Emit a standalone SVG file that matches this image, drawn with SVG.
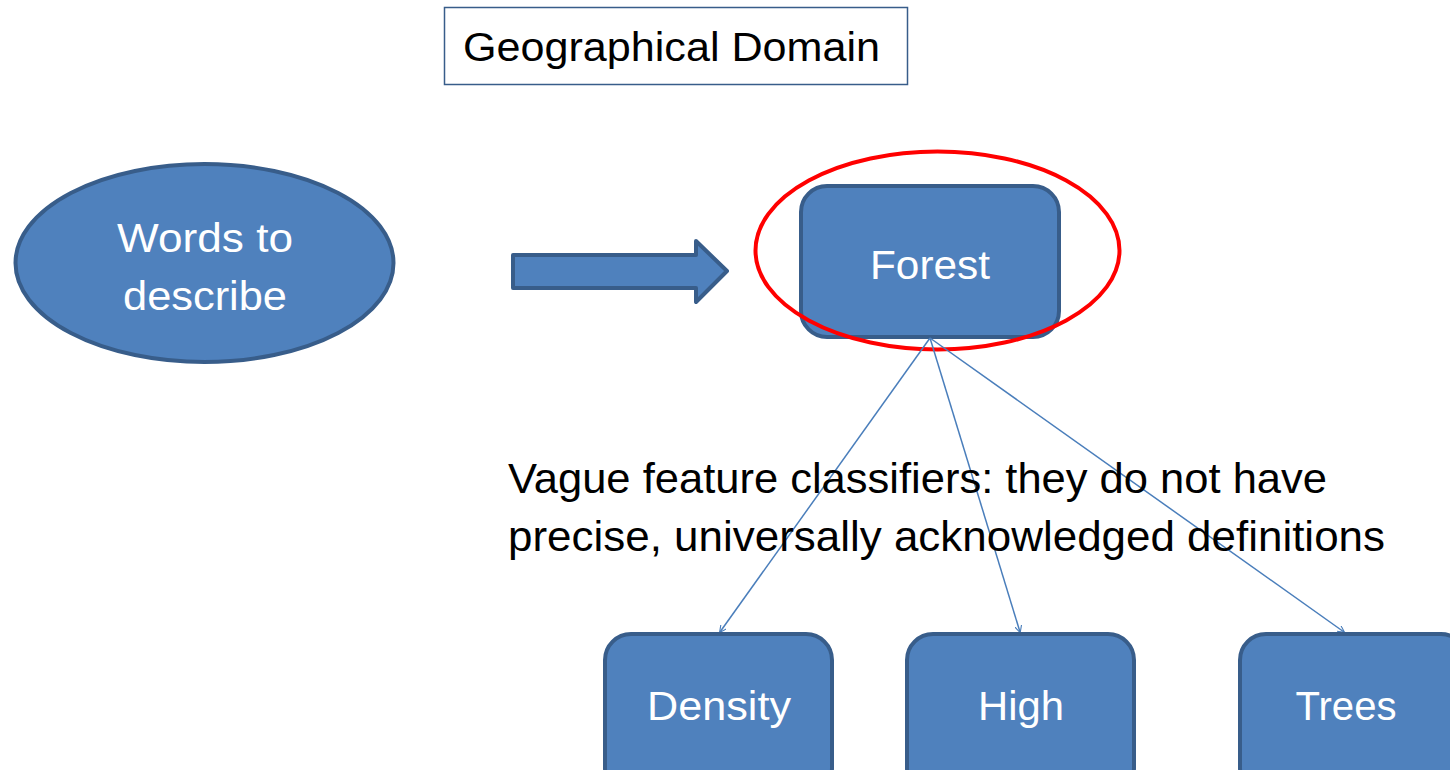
<svg xmlns="http://www.w3.org/2000/svg" width="1450" height="770" viewBox="0 0 1450 770">
  <defs>
    <style>
      .node { fill: #4f81bd; stroke: #385d8a; stroke-width: 4; }
      .label { font-family: "Liberation Sans", "Noto Sans", sans-serif; fill: #ffffff; text-anchor: middle; }
      .dark { font-family: "Liberation Sans", "Noto Sans", sans-serif; fill: #000000; }
      .edge { stroke: #4a7ebb; stroke-width: 1.5; fill: none; marker-end: url(#tip); }
    </style>
    <marker id="tip" viewBox="0 0 10 10" refX="9" refY="5" markerWidth="7" markerHeight="7" orient="auto" markerUnits="userSpaceOnUse">
      <path d="M0,0 L10,5 L0,10" fill="none" stroke="#4a7ebb" stroke-width="1.6"/>
    </marker>
  </defs>
  <rect width="1450" height="770" fill="#ffffff"/>

  <g id="title">
    <rect x="444.5" y="7.5" width="463" height="77" fill="#ffffff" stroke="#385d8a" stroke-width="1.5"/>
    <text class="dark" x="463" y="61" font-size="40" textLength="417" lengthAdjust="spacingAndGlyphs">Geographical Domain</text>
  </g>

  <g id="words">
    <ellipse class="node" cx="204.5" cy="263" rx="189" ry="99"/>
    <text class="label" x="205" y="252" font-size="40" textLength="176" lengthAdjust="spacingAndGlyphs">Words to</text>
    <text class="label" x="205" y="310" font-size="40" textLength="164" lengthAdjust="spacingAndGlyphs">describe</text>
  </g>

  <g id="block-arrow">
    <path class="node" d="M513,255 L696,255 L696,241 L727,271 L696,302 L696,288 L513,288 Z" stroke-linejoin="round"/>
  </g>

  <g id="forest">
    <rect class="node" x="801" y="186" width="258" height="151" rx="26"/>
    <text class="label" x="930" y="279" font-size="40" textLength="120" lengthAdjust="spacingAndGlyphs">Forest</text>
  </g>

  <g id="highlight">
    <ellipse cx="937.5" cy="250.5" rx="182" ry="99" fill="none" stroke="#ff0000" stroke-width="4"/>
  </g>

  <g id="connectors">
    <line class="edge" x1="930" y1="338" x2="720" y2="632"/>
    <line class="edge" x1="930" y1="338" x2="1020" y2="632"/>
    <line class="edge" x1="930" y1="338" x2="1344" y2="632"/>
  </g>

  <g id="note">
    <text class="dark" x="508" y="493" font-size="42" textLength="819" lengthAdjust="spacingAndGlyphs">Vague feature classifiers: they do not have</text>
    <text class="dark" x="508" y="551" font-size="42" textLength="877" lengthAdjust="spacingAndGlyphs">precise, universally acknowledged definitions</text>
  </g>

  <g id="density">
    <rect class="node" x="605" y="634" width="227" height="160" rx="26"/>
    <text class="label" x="719" y="720" font-size="40" textLength="144" lengthAdjust="spacingAndGlyphs">Density</text>
  </g>

  <g id="high">
    <rect class="node" x="907" y="634" width="227" height="160" rx="26"/>
    <text class="label" x="1021" y="720" font-size="40" textLength="86" lengthAdjust="spacingAndGlyphs">High</text>
  </g>

  <g id="trees">
    <rect class="node" x="1240" y="634" width="227" height="160" rx="26"/>
    <text class="label" x="1346" y="720" font-size="40" textLength="101" lengthAdjust="spacingAndGlyphs">Trees</text>
  </g>
</svg>
